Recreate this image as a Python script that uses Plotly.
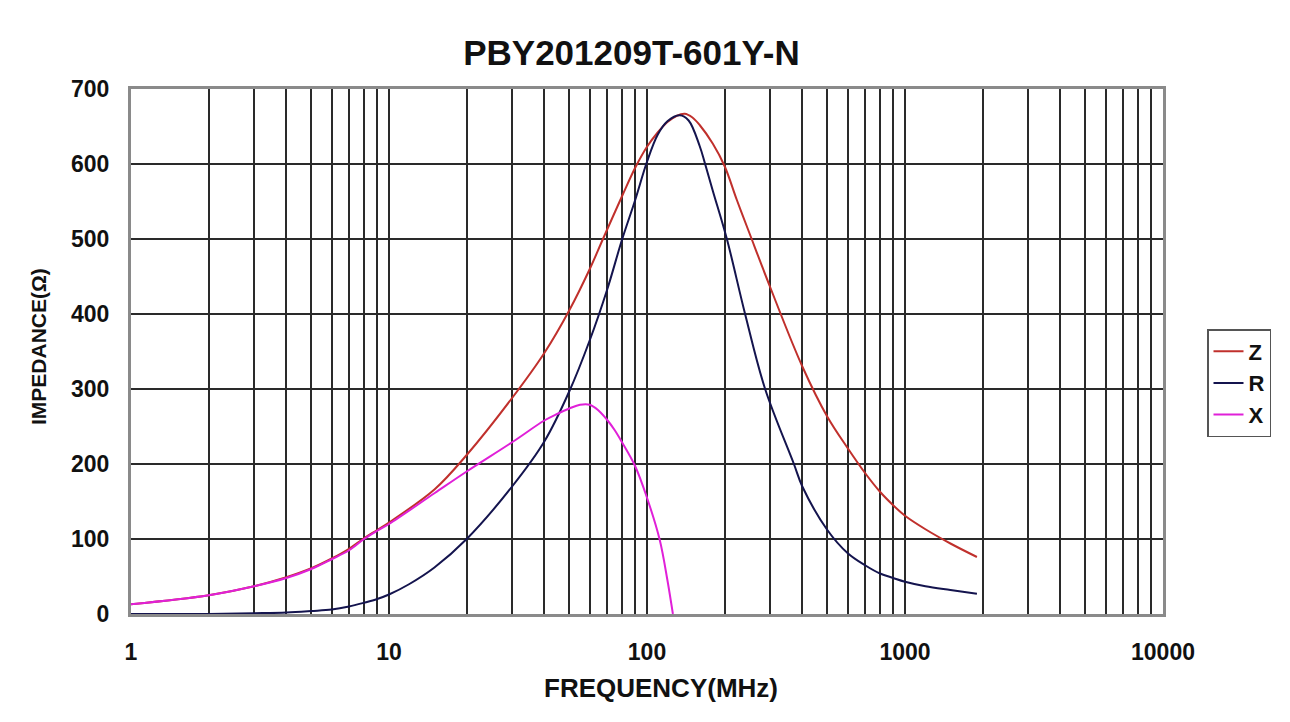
import plotly.graph_objects as go

# ---- data ----
z_freq = [1, 2, 3, 4, 5, 6, 7, 8, 9, 10, 15, 20, 30, 40, 50, 60, 67.5, 80, 90, 100,
          110, 120, 130, 140, 150, 160, 180, 200, 223, 250, 300, 400, 500, 600, 700, 800, 900, 1000, 1200,
          1500, 1900]
z_vals = [13, 25, 37, 49, 61, 74, 87, 101, 112, 122, 166, 212, 288, 348, 405, 460, 500, 557, 595, 623,
          642, 656, 664, 667, 662, 652, 627, 597, 552, 507, 436, 330, 263, 221, 188, 163, 145, 131, 113,
          94, 76]

r_freq = [1, 2, 3, 4, 5, 6, 7, 8, 9, 10, 12, 15, 20, 30, 40, 50, 60, 70, 80, 90, 100,
          110, 120, 134, 145, 160, 168, 180, 204, 240, 287, 371, 400, 500, 600, 700, 800, 900, 1000, 1200,
          1500, 1900]
r_vals = [0, 0, 1, 2, 4, 6, 10, 15, 20, 26, 40, 62, 100, 170, 230, 297, 365, 432, 499, 552, 603,
          639, 657, 665, 658, 624, 600, 564, 500, 400, 300, 200, 170, 112, 81, 65, 54, 48, 43, 37,
          32, 27]

x_freq = [1, 2, 3, 4, 5, 6, 7, 8, 9, 10, 15, 20, 30, 40, 45, 50, 55, 60, 65, 70, 75, 80, 90, 100, 112, 120, 126]
x_vals = [13, 25, 37, 48, 60, 73, 85, 100, 111, 120, 161, 190, 229, 258, 267, 274, 279, 279, 271, 259, 245, 229, 197,
          155, 99, 45, 0]

series_names = ["Z", "R", "X"]
series_colors = ["#C0302C", "#14144E", "#E020D8"]

decades = [1, 10, 100, 1000]
x_tickvals = [m * d for d in decades for m in range(1, 10)] + [10000]
x_ticktext = [str(v) if v in (1, 10, 100, 1000, 10000) else "" for v in x_tickvals]
y_tickvals = [0, 100, 200, 300, 400, 500, 600, 700]

title_text = "PBY201209T-601Y-N"
x_title = "FREQUENCY(MHz)"
y_title = "IMPEDANCE(Ω)"

FONT = "Liberation Sans, Arial, sans-serif"
OFF = 8  # page body margin

fig = go.Figure()
for name, fx, fy, col in zip(series_names, [z_freq, r_freq, x_freq], [z_vals, r_vals, x_vals], series_colors):
    fig.add_trace(go.Scatter(x=fx, y=fy, name=name, mode="lines",
                             line=dict(color=col, width=2, shape="spline", smoothing=1.0),
                             legendgroup=name))

fig.update_layout(
    width=1290, height=722,
    margin=dict(l=131 - OFF, r=127 + OFF, t=89 - OFF, b=108 + OFF),
    paper_bgcolor="white", plot_bgcolor="white",
    font=dict(family=FONT, color="#111111"),
    title=dict(text="<b>" + title_text + "</b>", x=(631.5 - OFF) / 1290, xref="container", xanchor="center",
               y=1 - (53 - OFF) / 722, yref="container", yanchor="middle",
               font=dict(size=35, family=FONT, color="#111111")),
    showlegend=True,
    legend=dict(x=(1207 - 131) / 1032, xanchor="left", y=(614 - 329) / 525, yanchor="top",
                bordercolor="#555555", borderwidth=1.5, bgcolor="white",
                font=dict(size=22, family=FONT, color="#111111", weight="bold"),
                tracegroupgap=0, itemwidth=30),
)

fig.update_xaxes(type="log", range=[0, 4], tickvals=x_tickvals, ticktext=x_ticktext,
                 showgrid=True, gridcolor="#2a2a2a", gridwidth=1.5,
                 showline=True, linecolor="#8a8a8a", linewidth=3, mirror=True,
                 ticks="", ticklabelstandoff=15,
                 tickfont=dict(size=23, family=FONT, color="#111111", weight="bold"),
                 zeroline=False)
fig.update_yaxes(range=[0, 700], tickvals=y_tickvals,
                 showgrid=True, gridcolor="#2a2a2a", gridwidth=1.5,
                 showline=True, linecolor="#8a8a8a", linewidth=3, mirror=True,
                 ticks="", ticklabelstandoff=14,
                 tickfont=dict(size=23, family=FONT, color="#111111", weight="bold"),
                 zeroline=False)

fig.add_annotation(text="<b>" + x_title + "</b>", xref="paper", yref="paper",
                   x=(661 - 131) / 1032, y=(614 - 688) / 525, xanchor="center", yanchor="middle",
                   showarrow=False, font=dict(size=26, family=FONT, color="#111111"))
fig.add_annotation(text="<b>" + y_title + "</b>", xref="paper", yref="paper",
                   x=(38 - 131) / 1032, y=(614 - 347) / 525, xanchor="center", yanchor="middle",
                   textangle=-90, showarrow=False, font=dict(size=21, family=FONT, color="#111111"))

fig.write_html("out.html")
